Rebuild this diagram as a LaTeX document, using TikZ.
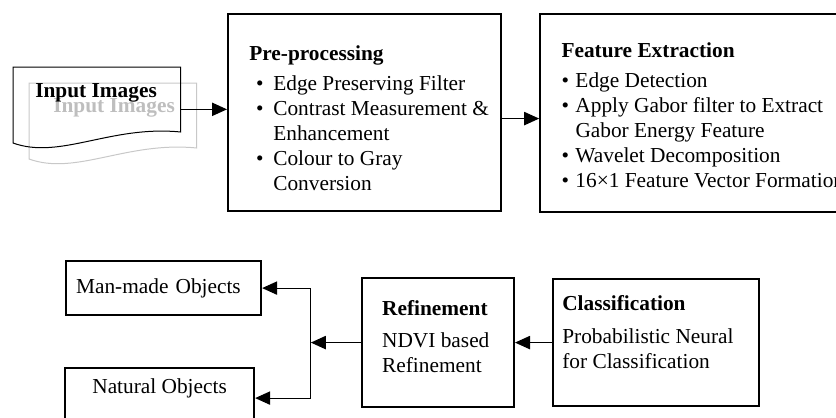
\documentclass[tikz,border=0pt]{standalone}
\usepackage{fontspec}
\setmainfont{Liberation Serif}
\usetikzlibrary{positioning, arrows.meta, calc}
\definecolor{docgray}{HTML}{C8C8C8}
\definecolor{labgray}{HTML}{BEBEBE}
\newcommand{\prebul}{\hspace*{4pt}\makebox[10.4pt][l]{\textbullet}}
\newcommand{\preind}{\hspace*{14.4pt}}
\newcommand{\featbul}{\makebox[8.4pt][l]{\textbullet}}
\newcommand{\featind}{\hspace*{8.4pt}}

\begin{document}
\begin{tikzpicture}[
  x=0.6pt, y=-0.6pt,
  font=\fontsize{12.8}{15}\selectfont,
  stagebox/.style={rectangle, draw, line width=1.3pt, inner sep=0pt},
  stagetext/.style={anchor=north west, align=left, inner sep=0pt},
  outbox/.style={rectangle, draw, line width=1.3pt},
  arr/.style={-{Triangle[length=9pt, width=8pt]}, line width=0.7pt},
  docline/.style={line width=0.6pt}
]
\useasboundingbox (0,0) rectangle (836,417);

% input document, faded copy behind
\node[minimum width=100.2pt, minimum height=50.4pt, inner sep=0pt, anchor=north west] (inpgray) at (29,83) {};
\node[minimum width=100.2pt, minimum height=50.4pt, inner sep=0pt, anchor=north west] (inp) at (13,67) {};
\draw[docline, docgray] ($(inpgray.north west)+(0,76)$) -- (inpgray.north west) -- (inpgray.north east)
  -- ($(inpgray.north east)+(0,65)$) .. controls ($(inpgray.north east)+(-70,58)$) and ($(inpgray.north west)+(47,93)$) .. cycle;
\node[anchor=base west, inner sep=0pt, text=labgray, font=\fontsize{12.8}{15}\selectfont\bfseries]
  (inpgraylabel) at ($(inpgray.north west)+(24,29)$) {Input Images};
\draw[docline] ($(inp.north west)+(0,76)$) -- (inp.north west) -- (inp.north east)
  -- ($(inp.north east)+(0,65)$) .. controls ($(inp.north east)+(-70,58)$) and ($(inp.north west)+(47,93)$) .. cycle;
\node[anchor=base west, inner sep=0pt, font=\fontsize{12.8}{15}\selectfont\bfseries]
  (inplabel) at ($(inp.north west)+(22,30)$) {Input Images};

% top row
\node[stagebox, minimum width=163.8pt, minimum height=118.2pt, anchor=north west] (pre) at (227,13) {};
\node[stagebox, minimum width=198pt, minimum height=118.8pt, right=22.2pt of pre] (feat) {};
\node[stagetext] (pretext) at ($(pre.north west)+(22,32)$) {%
  \textbf{Pre-processing}\\[3pt]
  \prebul Edge Preserving Filter\\
  \prebul Contrast Measurement \&\\
  \preind Enhancement\\
  \prebul Colour to Gray\\
  \preind Conversion};
\node[stagetext] (feattext) at ($(feat.north west)+(22,30)$) {%
  \textbf{Feature Extraction}\\[3pt]
  \featbul Edge Detection\\
  \featbul Apply Gabor filter to Extract\\
  \featind Gabor Energy Feature\\
  \featbul Wavelet Decomposition\\
  \featbul 16×1 Feature Vector Formation};

% bottom row
\node[stagebox, minimum width=123.6pt, minimum height=76.2pt, anchor=north west] (cls) at (552,278) {};
\node[stagebox, minimum width=91.2pt, minimum height=77.4pt, left=22.2pt of cls] (ref) {};
\node[stagetext] (clstext) at ($(cls.north west)+(10,17)$) {%
  \textbf{Classification}\\[5pt]
  Probabilistic Neural\\
  for Classification};
\node[stagetext] (reftext) at ($(ref.north west)+(21,23)$) {%
  \textbf{Refinement}\\[4pt]
  NDVI based\\
  Refinement};
\node[outbox, text width=105pt, inner xsep=6pt, minimum height=32.4pt, align=left, anchor=north west]
  (man) at (65,260) {Man-made Objects};
\node[outbox, minimum width=113.4pt, inner ysep=6pt, text height=9pt, text depth=15pt, anchor=north west]
  (nat) at (64,367) {Natural Objects};

% connectors
\draw[arr] (inp.east) -- (inp.east -| pre.west);
\draw[arr] ([yshift=-3.6pt]pre.east) -- ([yshift=-3.6pt]feat.west);
\draw[arr] (cls.west) -- (ref.east);
\coordinate (split) at ($(ref.west)+(-50,0)$);
\draw[arr] (ref.west) -- (split);
\draw[arr] (split) |- (man.east);
\draw[arr] (split) |- (nat.east);
\end{tikzpicture}
\end{document}
